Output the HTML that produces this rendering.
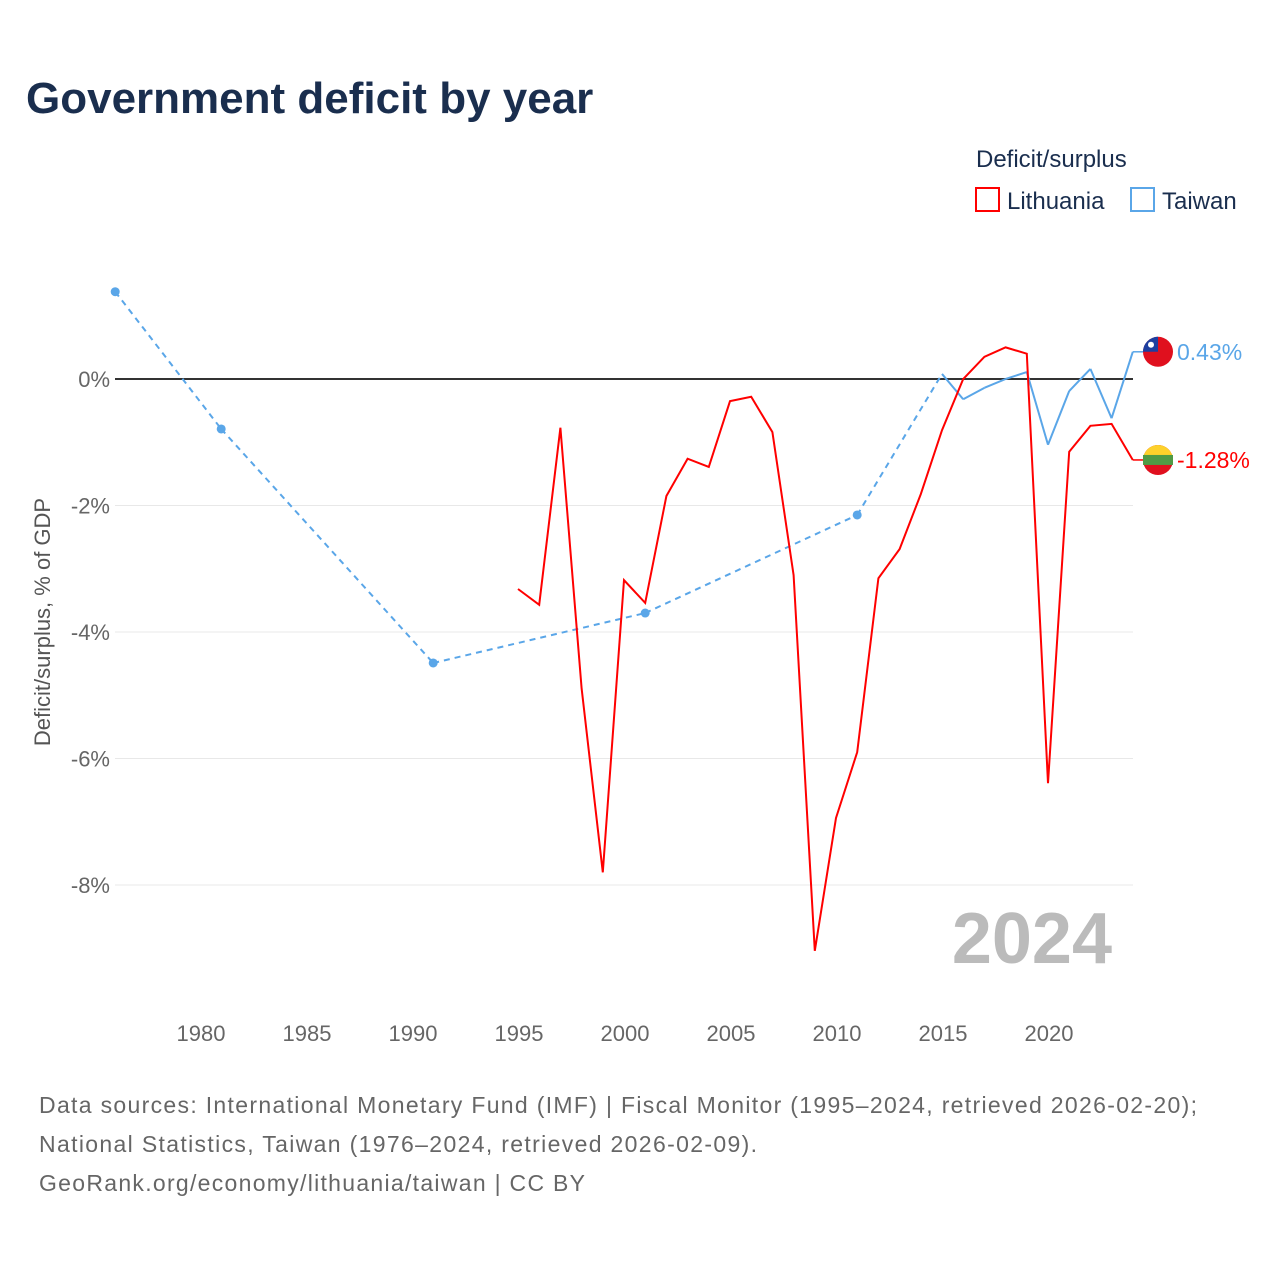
<!DOCTYPE html>
<html><head><meta charset="utf-8"><style>
body{margin:0;background:#fff;font-family:"Liberation Sans",sans-serif;}
#wrap{position:relative;width:1280px;height:1280px;}
</style></head><body>
<div id="wrap">
<svg id="chart" width="1280" height="1280">
<text x="26" y="113" font-size="44" font-weight="bold" fill="#1a2e4e">Government deficit by year</text>
<text x="976" y="167" font-size="24" fill="#1a2e4e">Deficit/surplus</text>
<g><rect x="976" y="188" width="23" height="23" fill="none" stroke="#f00" stroke-width="2"/><text x="1007" y="209" font-size="24" fill="#1a2e4e">Lithuania</text></g>
<g><rect x="1131" y="188" width="23" height="23" fill="none" stroke="#5aa6e8" stroke-width="2"/><text x="1162" y="209" font-size="24" fill="#1a2e4e">Taiwan</text></g>
<g id="grid"></g><g id="xt"></g><g id="series"></g>
<text x="1112" y="963" font-size="72" font-weight="bold" fill="#bbb" text-anchor="end">2024</text>
<text transform="translate(50,622) rotate(-90)" font-size="22" fill="#555" text-anchor="middle">Deficit/surplus, % of GDP</text>
<g font-size="23" fill="#666">
<text x="39" y="1113" textLength="1158" lengthAdjust="spacing">Data sources: International Monetary Fund (IMF) | Fiscal Monitor (1995–2024, retrieved 2026-02-20);</text>
<text x="39" y="1152" textLength="718" lengthAdjust="spacing">National Statistics, Taiwan (1976–2024, retrieved 2026-02-09).</text>
<text x="39" y="1191" textLength="546" lengthAdjust="spacing">GeoRank.org/economy/lithuania/taiwan | CC BY</text></g>
</svg></div>
<script>
const yTicks=[0,-2,-4,-6,-8];
const xTicks=[1980,1985,1990,1995,2000,2005,2010,2015,2020];
const ltYears=[1995,1996,1997,1998,1999,2000,2001,2002,2003,2004,2005,2006,2007,2008,2009,2010,2011,2012,2013,2014,2015,2016,2017,2018,2019,2020,2021,2022,2023,2024];
const ltValues=[-3.32,-3.57,-0.77,-4.89,-7.8,-3.18,-3.54,-1.85,-1.26,-1.39,-0.35,-0.28,-0.84,-3.1,-9.04,-6.94,-5.9,-3.15,-2.69,-1.82,-0.81,0,0.35,0.5,0.4,-6.39,-1.15,-0.74,-0.71,-1.28];
const twYears=[1976,1981,1991,2001,2011,2015,2016,2017,2018,2019,2020,2021,2022,2023,2024];
const twValues=[1.38,-0.79,-4.49,-3.7,-2.15,0.08,-0.32,-0.14,0,0.11,-1.04,-0.19,0.16,-0.62,0.43];
const X=y=>200+(y-1980)*21.2, Y=v=>379-v*63.25;
const NS="http://www.w3.org/2000/svg";
function mk(t,a,p){const e=document.createElementNS(NS,t);for(const k in a)e.setAttribute(k,a[k]);p.appendChild(e);return e;}
const g=document.getElementById('grid'),xt=document.getElementById('xt'),s=document.getElementById('series');
yTicks.forEach(v=>{const l=mk('line',{x1:115,x2:1133,y1:Y(v),y2:Y(v),stroke:v===0?'#333':'#e8e8e8','stroke-width':v===0?2:1},g);

const t=mk('text',{x:110,y:Y(v)+8,'text-anchor':'end','font-size':22,fill:'#666'},g);t.textContent=v+'%';
});
xTicks.forEach(v=>{const t=mk('text',{x:X(v)+1,y:1041,'text-anchor':'middle','font-size':22,fill:'#666'},xt);t.textContent=v;
});
for(let i=1;i<twYears.length;i++){const gap=twYears[i]-twYears[i-1]>1;
const l=mk('line',{x1:X(twYears[i-1]),y1:Y(twValues[i-1]),x2:X(twYears[i]),y2:Y(twValues[i]),stroke:'#5aa6e8','stroke-width':2,'stroke-dasharray':gap?'6,5':'none'},s);
}
twYears.forEach((yr,i)=>{const iso=(i===0||twYears[i]-twYears[i-1]>1)&&(i===twYears.length-1||twYears[i+1]-yr>1);
if(iso){const c=mk('circle',{cx:X(yr),cy:Y(twValues[i]),r:4.5,fill:'#5aa6e8'},s);}});
const p=mk('polyline',{points:ltYears.map((y,i)=>X(y)+','+Y(ltValues[i])).join(' '),fill:'none',stroke:'#f00','stroke-width':2},s);

function endLab(val,col,name,flag){const y=Y(val),x=X(2024);
const l=mk('line',{x1:x,x2:1145,y1:y,y2:y,stroke:col,'stroke-width':1.5},s);
const fg=mk('g',{},s);flag(fg,1158,y);
const t=mk('text',{x:1177,y:y+8,'font-size':23,fill:col},s);t.textContent=val.toFixed(2)+'%';
}
endLab(twValues[twValues.length-1],'#5aa6e8','taiwan',(fg,x,y)=>{mk('circle',{cx:x,cy:y,r:15,fill:'#e0101e'},fg);mk('path',{d:`M${x-15},${y} A15,15 0 0 1 ${x},${y-15} L${x},${y} Z`,fill:'#1d3fa0'},fg);mk('circle',{cx:x-7,cy:y-7,r:3,fill:'#fff'},fg);});
endLab(ltValues[ltValues.length-1],'#f00','lithuania',(fg,x,y)=>{mk('circle',{cx:x,cy:y,r:15,fill:'#e0101e'},fg);mk('path',{d:`M${x-15},${y} A15,15 0 0 1 ${x+15},${y} Z`,fill:'#fdd12b'},fg);mk('rect',{x:x-15,y:y-5,width:30,height:10,fill:'#4f9a45'},fg);});
</script></body></html>
